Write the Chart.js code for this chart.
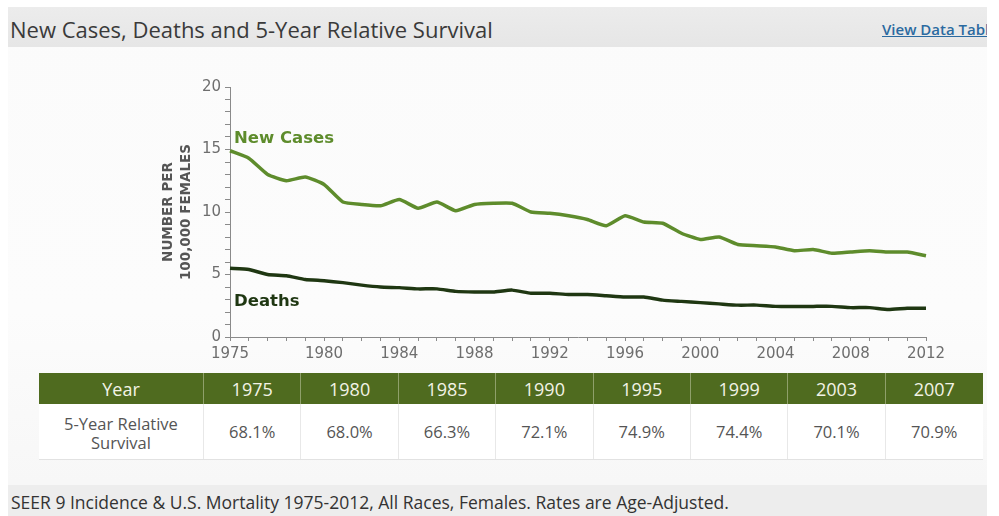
<!DOCTYPE html>
<html>
<head>
<meta charset="utf-8">
<script src="https://cdn.jsdelivr.net/npm/chart.js@4.4.1/dist/chart.umd.min.js"></script>
<style>
  html, body { margin: 0; padding: 0; background: #ffffff; width: 999px; height: 516px; overflow: hidden; }
  #box { position: absolute; left: 8px; top: 7px; width: 979px; height: 509px; overflow: hidden;
         background: linear-gradient(to bottom, #fbfbfb 0%, #fcfcfc 60%, #f6f6f6 100%); }
  #head { position: absolute; left: 0; top: 0; width: 979px; height: 40px;
          background: linear-gradient(to bottom, #ececec, #e6e6e6); }
  #title { position: absolute; left: 2px; top: 7px; font-family: "Open Sans", sans-serif; font-size: 22px; color: #3a3a3a; white-space: nowrap; }
  #link { position: absolute; left: 874px; top: 12px; font-family: "Open Sans", sans-serif; font-size: 15px; font-weight: 600; color: #2b6aa0; text-decoration: underline; white-space: nowrap; }
  #chartwrap { position: absolute; left: -8px; top: 43px; width: 999px; height: 320px; }
  #tbl { position: absolute; left: 31px; top: 366px; border-collapse: collapse; font-family: "Open Sans", sans-serif; }
  #tbl th { background: #4f6b1f; color: #f3f3e6; font-weight: 400; font-size: 18px; height: 31px; padding: 0; text-align: center; border-left: 1px solid #8fa06a; }
  #tbl th:first-child { border-left: none; }
  #tbl td { background: #ffffff; color: #555; font-size: 16.5px; height: 53px; padding: 0; text-align: center; border-left: 1px solid #e8e8e8; border-bottom: 1px solid #e2e2e2; line-height: 19px; }
  #tbl td:first-child { border-left: none; padding-top: 2px; }
  #foot { position: absolute; left: 0; top: 478px; width: 979px; height: 31px; background: #ededed; }
  #foottext { position: absolute; left: 3px; top: 5px; font-family: "Open Sans", sans-serif; font-size: 17.5px; color: #333; white-space: nowrap; }
</style>
</head>
<body>
<div id="box">
  <div id="head">
    <div id="title">New Cases, Deaths and 5-Year Relative Survival</div>
    <div id="link">View Data Table</div>
  </div>
  <div id="chartwrap"><canvas id="c" width="999" height="320"></canvas></div>
  <table id="tbl"><thead><tr id="hrow"></tr></thead><tbody><tr id="brow"></tr></tbody></table>
  <div id="foot"><div id="foottext">SEER 9 Incidence &amp; U.S. Mortality 1975-2012, All Races, Females. Rates are Age-Adjusted.</div></div>
</div>
<script>
// ---- data ----
const years = [1975,1976,1977,1978,1979,1980,1981,1982,1983,1984,1985,1986,1987,1988,1989,
               1990,1991,1992,1993,1994,1995,1996,1997,1998,1999,2000,2001,2002,2003,2004,
               2005,2006,2007,2008,2009,2010,2011,2012];
const newCases = [14.9,14.3,13.0,12.5,12.8,12.2,10.8,10.6,10.5,11.0,10.3,10.8,10.1,10.6,10.7,
                  10.7,10.0,9.9,9.7,9.4,8.9,9.7,9.2,9.1,8.3,7.8,8.0,7.4,7.3,7.2,
                  6.9,7.0,6.7,6.8,6.9,6.8,6.8,6.5];
const deaths = [5.5,5.4,5.0,4.9,4.6,4.5,4.35,4.15,4.0,3.95,3.85,3.85,3.65,3.6,3.6,
                3.75,3.5,3.5,3.4,3.4,3.3,3.2,3.2,2.95,2.85,2.75,2.65,2.55,2.55,2.45,
                2.45,2.45,2.45,2.35,2.35,2.2,2.3,2.3];
const xTickLabels = [1975,1980,1984,1988,1992,1996,2000,2004,2008,2012];
const yTickLabels = [0,5,10,15,20];
const survivalYears = ["1975","1980","1985","1990","1995","1999","2003","2007"];
const survivalRates = ["68.1%","68.0%","66.3%","72.1%","74.9%","74.4%","70.1%","70.9%"];

// ---- table ----
const hrow = document.getElementById('hrow');
const brow = document.getElementById('brow');
function cell(tag, txt, w) { const e = document.createElement(tag); e.innerHTML = txt; e.style.width = w + 'px'; e.style.minWidth = w + 'px'; e.style.maxWidth = w + 'px'; return e; }
hrow.appendChild(cell('th', 'Year', 164));
brow.appendChild(cell('td', '5-Year Relative<br>Survival', 164));
survivalYears.forEach((y, i) => {
  const w = i === 7 ? 97 : 96.4;
  hrow.appendChild(cell('th', y, w));
  brow.appendChild(cell('td', survivalRates[i], w));
});

// ---- chart ----
const GREEN = '#5e8c2c';
const DARK = '#1f3712';
const seriesLabels = {
  id: 'seriesLabels',
  afterDatasetsDraw(chart) {
    const {ctx, scales: {x, y}} = chart;
    ctx.save();
    ctx.font = 'bold 16.5px "DejaVu Sans", sans-serif';
    ctx.textAlign = 'left';
    ctx.textBaseline = 'middle';
    ctx.fillStyle = GREEN;
    ctx.fillText('New Cases', x.getPixelForValue(0) + 4, y.getPixelForValue(15.9));
    ctx.fillStyle = DARK;
    ctx.fillText('Deaths', x.getPixelForValue(0) + 4, y.getPixelForValue(2.8));
    ctx.restore();
  }
};

new Chart(document.getElementById('c'), {
  type: 'line',
  data: {
    labels: years.map(String),
    datasets: [
      { label: 'New Cases', data: newCases, borderColor: GREEN, borderWidth: 3.5, pointRadius: 0, tension: 0.15, fill: false },
      { label: 'Deaths', data: deaths, borderColor: DARK, borderWidth: 3.5, pointRadius: 0, tension: 0.15, fill: false }
    ]
  },
  options: {
    responsive: false,
    animation: false,
    events: [],
    layout: { padding: { left: 159, right: 73, top: 37, bottom: 0 } },
    plugins: { legend: { display: false }, tooltip: { enabled: false } },
    scales: {
      x: {
        type: 'category',
        offset: false,
        afterFit(s) { s.height = 33; },
        grid: { display: true, drawOnChartArea: false, drawTicks: true, tickLength: 4, color: '#8a8a8a', lineWidth: 1 },
        border: { display: true, color: '#8a8a8a', width: 1 },
        ticks: {
          autoSkip: false, maxRotation: 0, minRotation: 0, padding: 4,
          color: '#6e6e6e', font: { family: '"DejaVu Sans", sans-serif', size: 15 },
          callback(v, i) { return xTickLabels.includes(years[i]) ? String(years[i]) : ''; }
        }
      },
      y: {
        min: 0, max: 20,
        afterFit(s) { s.width = 71; },
        grid: { display: true, drawOnChartArea: false, drawTicks: true, tickLength: 5, color: '#8a8a8a', lineWidth: 1 },
        border: { display: true, color: '#8a8a8a', width: 1 },
        ticks: {
          stepSize: 1, padding: 4, autoSkip: false, maxTicksLimit: 50,
          color: '#6e6e6e', font: { family: '"DejaVu Sans", sans-serif', size: 15 },
          callback(v) { return yTickLabels.includes(v) ? String(v) : ''; }
        },
        title: {
          display: true, text: ['NUMBER PER', '100,000 FEMALES'],
          color: '#555555', padding: { top: 1, bottom: 0 },
          font: { family: '"DejaVu Sans", sans-serif', size: 13.5, weight: 'bold', lineHeight: 1.333 }
        }
      }
    }
  },
  plugins: [seriesLabels]
});
</script>
</body>
</html>
